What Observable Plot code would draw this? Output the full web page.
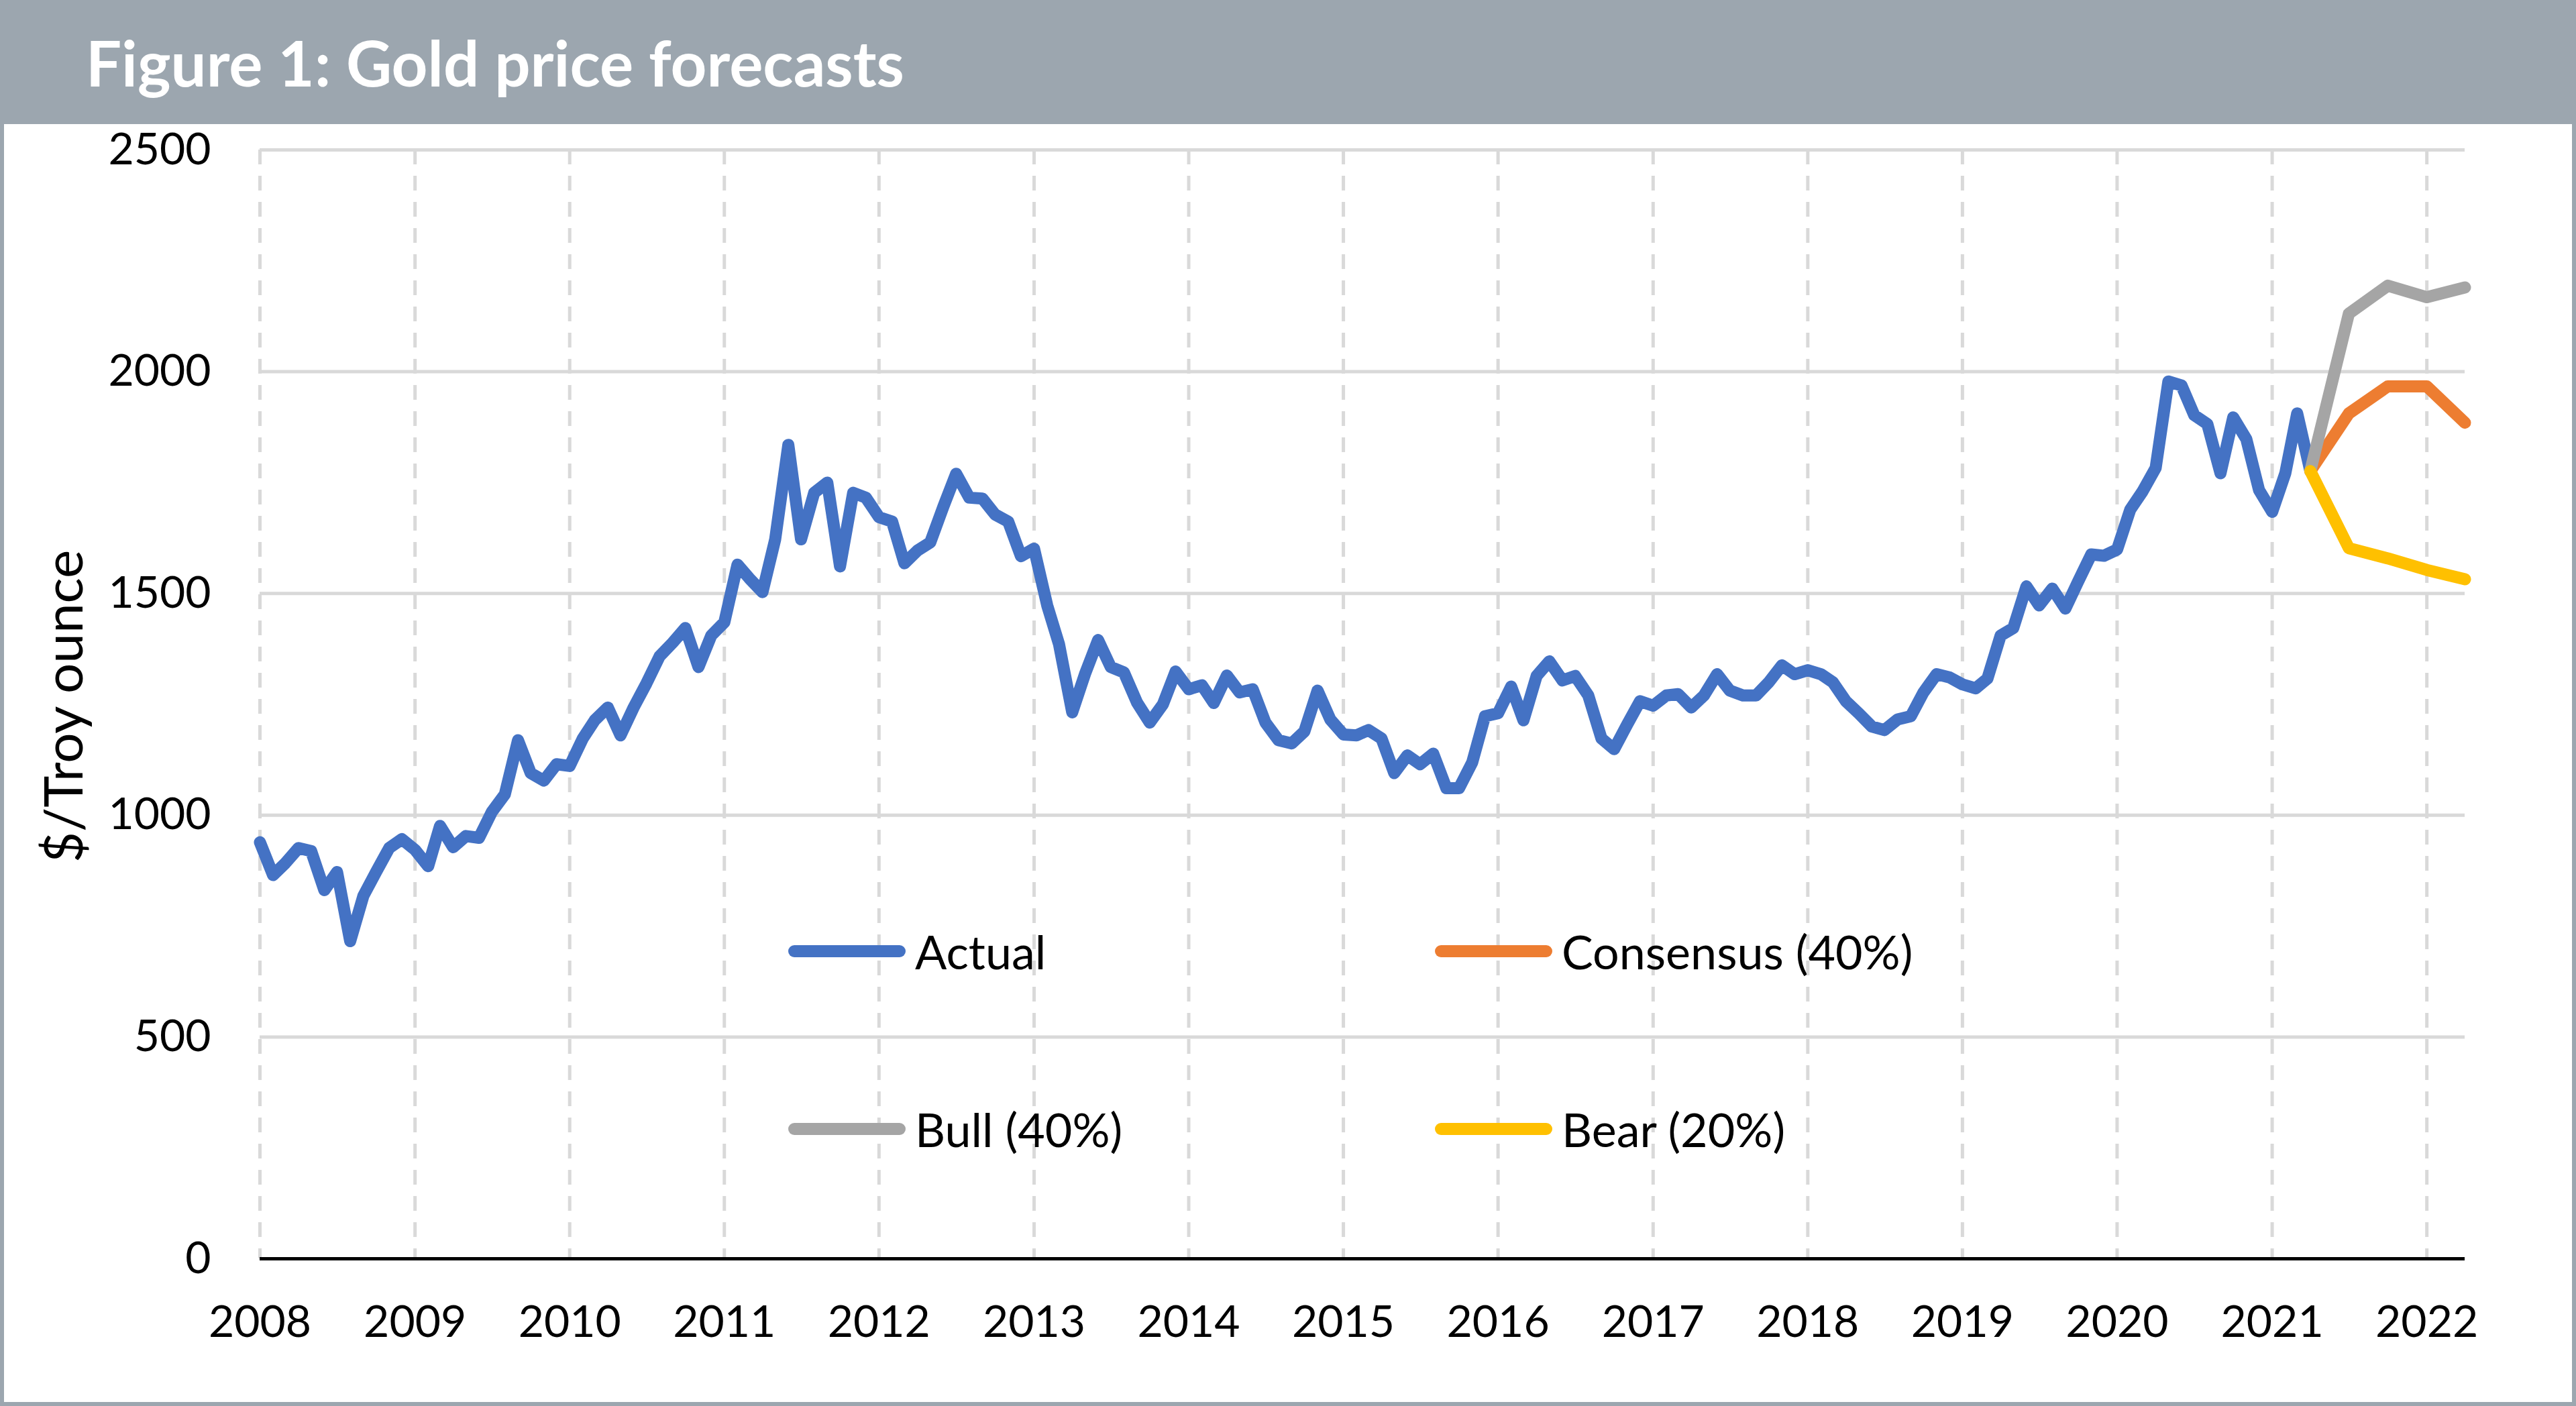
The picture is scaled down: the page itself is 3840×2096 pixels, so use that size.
<!DOCTYPE html>
<html><head><meta charset="utf-8">
<script src="https://cdn.jsdelivr.net/npm/d3@7"></script>
<script src="https://cdn.jsdelivr.net/npm/@observablehq/plot@0.6"></script>
<style>
html,body{margin:0;padding:0;background:#fff;}
#chart{position:relative;width:3840px;height:2096px;overflow:hidden;font-family:Lato,"Open Sans",sans-serif;background:#fff;color:#000;}
#title{position:absolute;left:0;top:0;width:3840px;height:185px;background:#9ca6af;}
#title span{position:absolute;left:128px;top:0;line-height:185px;color:#fff;font-weight:700;font-size:94px;white-space:nowrap;}
#frame{position:absolute;left:0;top:0;width:3840px;height:2096px;box-sizing:border-box;border:6px solid #9ca6af;pointer-events:none;}
#plot{position:absolute;left:0;top:185px;}
#ylabel{position:absolute;left:92px;top:1053px;transform:translate(-50%,-50%) rotate(-90deg);font-size:80px;white-space:nowrap;}
.leg{position:absolute;height:90px;display:flex;align-items:center;font-size:70px;white-space:nowrap;}
.sw{width:175px;height:18px;border-radius:9px;margin-right:14px;}
</style>
</head><body>
<div id="chart">
  <div id="title"><span>Figure 1: Gold price forecasts</span></div>
  <div id="plot"></div>
  <div id="ylabel">$/Troy ounce</div>
  <div id="legend"></div>
  <div id="frame"></div>
</div>
<script>
// Monthly actual gold price, starting January 2008
const actualStart = "2008-01-01";
const actual2008 = [939, 865, 892, 926, 919, 831, 872, 716, 818, 872, 926, 946];
const actual2009 = [922, 885, 976, 928, 953, 949, 1007, 1047, 1169, 1095, 1078, 1115];
const actual2010 = [1111, 1173, 1214, 1243, 1180, 1243, 1297, 1358, 1389, 1422, 1334, 1405];
const actual2011 = [1435, 1565, 1534, 1503, 1622, 1835, 1622, 1727, 1750, 1561, 1727, 1716];
const actual2012 = [1672, 1662, 1568, 1597, 1615, 1696, 1770, 1716, 1714, 1678, 1662, 1584];
const actual2013 = [1601, 1473, 1385, 1232, 1318, 1395, 1334, 1322, 1254, 1209, 1250, 1324];
const actual2014 = [1284, 1293, 1253, 1315, 1277, 1284, 1209, 1169, 1162, 1189, 1281, 1216];
const actual2015 = [1182, 1180, 1192, 1173, 1095, 1135, 1115, 1139, 1061, 1061, 1119, 1223];
const actual2016 = [1230, 1290, 1214, 1314, 1347, 1304, 1314, 1270, 1173, 1149, 1205, 1257];
const actual2017 = [1247, 1270, 1273, 1243, 1270, 1318, 1281, 1270, 1270, 1300, 1338, 1318];
const actual2018 = [1327, 1318, 1300, 1257, 1230, 1200, 1192, 1216, 1223, 1277, 1318, 1311];
const actual2019 = [1295, 1286, 1308, 1405, 1422, 1516, 1473, 1511, 1466, 1527, 1588, 1585];
const actual2020 = [1599, 1689, 1730, 1783, 1978, 1969, 1902, 1882, 1771, 1897, 1848, 1733];
const actual2021 = [1684, 1771, 1906, 1776];

// Quarterly forecasts
const forecastMonths = ["2021-04-01", "2021-07-01", "2021-10-01", "2022-01-01", "2022-04-01"];
const consensusValues = [1776, 1906, 1967, 1967, 1885];
const bullValues = [1776, 2131, 2194, 2168, 2190];
const bearValues = [1776, 1602, 1579, 1553, 1532];

// Axes
const xDomain = ["2008-01-01", "2022-04-01"];
const yearLabels = ["2008","2009","2010","2011","2012","2013","2014","2015","2016","2017","2018","2019","2020","2021","2022"];
const yTicks = [0, 500, 1000, 1500, 2000, 2500];

// Series
const seriesNames = ["Actual", "Consensus (40%)", "Bull (40%)", "Bear (20%)"];
const seriesColors = ["#4472C4", "#ED7D31", "#A5A5A5", "#FFC000"];

const actualValues = [].concat(actual2008, actual2009, actual2010, actual2011, actual2012, actual2013,
  actual2014, actual2015, actual2016, actual2017, actual2018, actual2019, actual2020, actual2021);
const start = new Date(actualStart);
const actual = actualValues.map((v, i) => ({date: d3.utcMonth.offset(start, i), value: v}));
const fc = vals => forecastMonths.map((m, i) => ({date: new Date(m), value: vals[i]}));
const yearTicks = yearLabels.map(y => new Date(y + "-01-01"));

const lineOpts = (color) => ({x: "date", y: "value", stroke: color, strokeWidth: 18,
  strokeLinejoin: "round", strokeLinecap: "round"});

const chart = Plot.plot({
  width: 3840,
  height: 1911,
  marginLeft: 387,
  marginRight: 166,
  marginTop: 38,
  marginBottom: 220,
  x: {type: "utc", domain: xDomain.map(d => new Date(d))},
  y: {domain: [0, 2500]},
  style: {fontFamily: "Lato, 'Open Sans', sans-serif", fontSize: "66px", color: "#000", background: "transparent", overflow: "visible"},
  marks: [
    Plot.ruleX(yearTicks, {stroke: "#d9d9d9", strokeWidth: 5, strokeDasharray: "22,17"}),
    Plot.ruleY(yTicks.filter(v => v > 0), {stroke: "#d9d9d9", strokeWidth: 5}),
    Plot.ruleY([0], {stroke: "#000", strokeWidth: 5}),
    Plot.axisX({ticks: yearTicks, tickSize: 0, tickPadding: 70, tickFormat: d3.utcFormat("%Y"), fontSize: 66, label: null}),
    Plot.axisY({ticks: yTicks, tickSize: 0, tickPadding: 73, tickFormat: d => String(d), fontSize: 66, label: null}),
    Plot.line(actual, lineOpts(seriesColors[0])),
    Plot.line(fc(consensusValues), lineOpts(seriesColors[1])),
    Plot.line(fc(bullValues), lineOpts(seriesColors[2])),
    Plot.line(fc(bearValues), lineOpts(seriesColors[3]))
  ]
});
document.getElementById("plot").appendChild(chart);

// Legend placed inside the plot area (2 x 2 grid)
const legendPos = [[1175, 1418], [2139, 1418], [1175, 1683], [2139, 1683]];
const legend = document.getElementById("legend");
seriesNames.forEach((name, i) => {
  const item = document.createElement("div");
  item.className = "leg";
  item.style.left = legendPos[i][0] + "px";
  item.style.top = (legendPos[i][1] - 45) + "px";
  const sw = document.createElement("div");
  sw.className = "sw";
  sw.style.background = seriesColors[i];
  const t = document.createElement("span");
  t.textContent = name;
  item.appendChild(sw);
  item.appendChild(t);
  legend.appendChild(item);
});
</script>
</body></html>
